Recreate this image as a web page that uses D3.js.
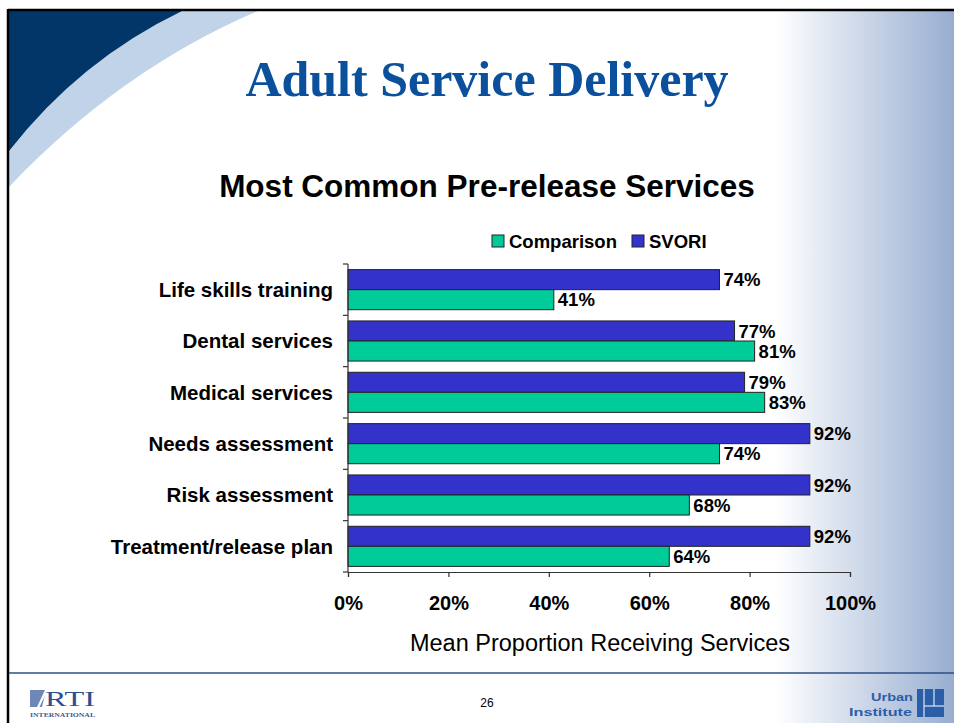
<!DOCTYPE html>
<html>
<head>
<meta charset="utf-8">
<script src="https://cdn.jsdelivr.net/npm/d3@7"></script>
<style>
  html, body { margin: 0; padding: 0; background: #fff; }
  svg { display: block; }
  text { font-family: "Liberation Sans", Arial, sans-serif; }
</style>
</head>
<body>
<svg id="slide" width="954" height="723"></svg>
<script>
// Services and the share of each group receiving them (percent)
const categories = [
  "Life skills training",
  "Dental services",
  "Medical services",
  "Needs assessment",
  "Risk assessment",
  "Treatment/release plan"
];
const svori = [74, 77, 79, 92, 92, 92];
const comparison = [41, 81, 83, 74, 68, 64];
const seriesNames = ["SVORI", "Comparison"];
const seriesColors = { SVORI: "#3333CC", Comparison: "#00CC99" };
const xTicks = [0, 20, 40, 60, 80, 100];

const svg = d3.select("#slide");
const W = 954, H = 723;

// ---- slide background ----
const defs = svg.append("defs");
const grad = defs.append("linearGradient").attr("id", "sideFade")
  .attr("x1", "0").attr("x2", "1").attr("y1", "0").attr("y2", "0");
grad.append("stop").attr("offset", "0").attr("stop-color", "#ffffff");
grad.append("stop").attr("offset", "1").attr("stop-color", "#98AED1");

svg.append("rect").attr("width", W).attr("height", H).attr("fill", "#fff");
svg.append("rect").attr("x", 775).attr("y", 10).attr("width", W - 775).attr("height", H - 10)
  .attr("fill", "url(#sideFade)");

// corner swoosh
svg.append("path")
  .attr("d", "M9,11 L258,11 Q120,70 9,187 Z")
  .attr("fill", "#C0D3E8");
svg.append("path")
  .attr("d", "M9,11 L182,11 Q80,60 9,151 Z")
  .attr("fill", "#033668");

// frame
svg.append("line").attr("x1", 8).attr("x2", W).attr("y1", 10).attr("y2", 10)
  .attr("stroke", "#000").attr("stroke-width", 2.5);
svg.append("line").attr("x1", 8).attr("x2", 8).attr("y1", 9).attr("y2", H)
  .attr("stroke", "#000").attr("stroke-width", 2.5);
svg.append("line").attr("x1", 9).attr("x2", W).attr("y1", 673).attr("y2", 673)
  .attr("stroke", "#2B4F86").attr("stroke-width", 1.6);

// titles
svg.append("text").attr("x", 487).attr("y", 96).attr("text-anchor", "middle")
  .style("font-family", "'Liberation Serif', 'Times New Roman', serif")
  .attr("font-size", 50).attr("font-weight", "bold").attr("fill", "#0B509C")
  .text("Adult Service Delivery");
svg.append("text").attr("x", 487).attr("y", 197).attr("text-anchor", "middle")
  .attr("font-size", 31.5).attr("font-weight", "bold").attr("fill", "#000")
  .text("Most Common Pre-release Services");

// ---- chart ----
const x = d3.scaleLinear().domain([0, 100]).range([348, 850]);
const y0 = d3.scaleBand().domain(categories).range([264, 572]).padding(0);
const y1 = d3.scaleBand().domain(seriesNames).range([0, y0.bandwidth()])
  .paddingInner(0).paddingOuter(0.28);

const rows = categories.map((c, i) => ({
  category: c,
  values: [
    { key: "SVORI", value: svori[i] },
    { key: "Comparison", value: comparison[i] }
  ]
}));

const groups = svg.append("g").selectAll("g").data(rows).join("g")
  .attr("transform", d => `translate(0,${y0(d.category)})`);

groups.selectAll("rect").data(d => d.values).join("rect")
  .attr("x", x(0))
  .attr("y", d => y1(d.key))
  .attr("width", d => x(d.value) - x(0))
  .attr("height", y1.bandwidth())
  .attr("fill", d => seriesColors[d.key])
  .attr("stroke", "#222")
  .attr("stroke-width", 1);

groups.selectAll("text.val").data(d => d.values).join("text")
  .attr("class", "val")
  .attr("x", d => x(d.value) + 4)
  .attr("y", d => y1(d.key) + y1.bandwidth() / 2)
  .attr("dy", "0.36em")
  .attr("font-size", 18.5).attr("font-weight", "bold").attr("fill", "#000")
  .text(d => d.value + "%");

// category axis: line with ticks at band edges
const catAxis = svg.append("g");
catAxis.append("line").attr("x1", x(0)).attr("x2", x(0))
  .attr("y1", y0.range()[0]).attr("y2", y0.range()[1])
  .attr("stroke", "#333").attr("stroke-width", 1.2);
const edges = categories.map(c => y0(c)).concat([y0.range()[1]]);
catAxis.selectAll("line.tick").data(edges).join("line").attr("class", "tick")
  .attr("x1", x(0) - 5).attr("x2", x(0)).attr("y1", d => d).attr("y2", d => d)
  .attr("stroke", "#333").attr("stroke-width", 1.2);
catAxis.selectAll("text").data(categories).join("text")
  .attr("x", 333)
  .attr("y", d => y0(d) + y0.bandwidth() / 2)
  .attr("dy", "0.36em")
  .attr("text-anchor", "end")
  .attr("font-size", 20.5).attr("font-weight", "bold").attr("fill", "#000")
  .text(d => d);

// value axis
const xAxis = svg.append("g").attr("transform", "translate(0,572)")
  .call(d3.axisBottom(x).tickValues(xTicks).tickFormat(d => d + "%")
    .tickSize(5).tickPadding(19));
xAxis.select(".domain").attr("stroke", "#333").attr("stroke-width", 1.2);
xAxis.selectAll(".tick line").attr("stroke", "#333").attr("stroke-width", 1.2);
xAxis.selectAll(".tick text")
  .style("font-family", "'Liberation Sans', Arial, sans-serif")
  .attr("font-size", 20).attr("font-weight", "bold").attr("fill", "#000");

svg.append("text").attr("x", 600).attr("y", 651).attr("text-anchor", "middle")
  .attr("font-size", 23.5).attr("fill", "#000")
  .text("Mean Proportion Receiving Services");

// legend
const legendItems = [
  { key: "Comparison", x: 492 },
  { key: "SVORI", x: 632 }
];
const legend = svg.append("g").selectAll("g").data(legendItems).join("g")
  .attr("transform", d => `translate(${d.x},241)`);
legend.append("rect").attr("x", 0).attr("y", -6).attr("width", 12).attr("height", 12)
  .attr("fill", d => seriesColors[d.key]).attr("stroke", "#222").attr("stroke-width", 1);
legend.append("text").attr("x", 17).attr("dy", "0.36em")
  .attr("font-size", 18.5).attr("font-weight", "bold").attr("fill", "#000")
  .text(d => d.key);

// ---- footer ----
svg.append("text").attr("x", 487).attr("y", 707).attr("text-anchor", "middle")
  .attr("font-size", 12).attr("fill", "#000").text("26");

// RTI mark
const rti = svg.append("g").attr("transform", "translate(30,687)");
rti.append("path").attr("d", "M0,3 L16,3 L12,20 L0,20 Z").attr("fill", "#6F86B8");
rti.append("path").attr("d", "M7,20 L15,3 L17.5,3 L9.5,20 Z").attr("fill", "#fff");
rti.append("text").attr("x", 15).attr("y", 19)
  .style("font-family", "'Liberation Serif', 'Times New Roman', serif")
  .attr("font-size", 22).attr("fill", "#2E4E8E")
  .attr("textLength", 50).attr("lengthAdjust", "spacingAndGlyphs").text("RTI");
rti.append("text").attr("x", 0).attr("y", 30)
  .style("font-family", "'Liberation Serif', 'Times New Roman', serif")
  .attr("font-size", 5.5).attr("font-weight", "bold").attr("fill", "#3D5A94")
  .attr("textLength", 65).attr("lengthAdjust", "spacingAndGlyphs").text("INTERNATIONAL");

// Urban Institute mark
svg.append("text").attr("x", 913).attr("y", 701).attr("text-anchor", "end")
  .attr("font-size", 11.5).attr("font-weight", "bold").attr("fill", "#2C5EA8")
  .attr("textLength", 42).attr("lengthAdjust", "spacingAndGlyphs").text("Urban");
svg.append("text").attr("x", 849).attr("y", 716)
  .attr("font-size", 11.5).attr("font-weight", "bold").attr("fill", "#2C5EA8")
  .attr("textLength", 63).attr("lengthAdjust", "spacingAndGlyphs").text("Institute");
const ui = svg.append("g");
ui.append("rect").attr("x", 917).attr("y", 689).attr("width", 27).attr("height", 28).attr("fill", "#2C5EA8");
ui.append("line").attr("x1", 924).attr("x2", 924).attr("y1", 689).attr("y2", 717).attr("stroke", "#dfe7f3").attr("stroke-width", 1.2);
ui.append("line").attr("x1", 924).attr("x2", 944).attr("y1", 706).attr("y2", 706).attr("stroke", "#dfe7f3").attr("stroke-width", 1.2);
ui.append("line").attr("x1", 934).attr("x2", 934).attr("y1", 689).attr("y2", 706).attr("stroke", "#dfe7f3").attr("stroke-width", 1.2);
</script>
</body>
</html>
